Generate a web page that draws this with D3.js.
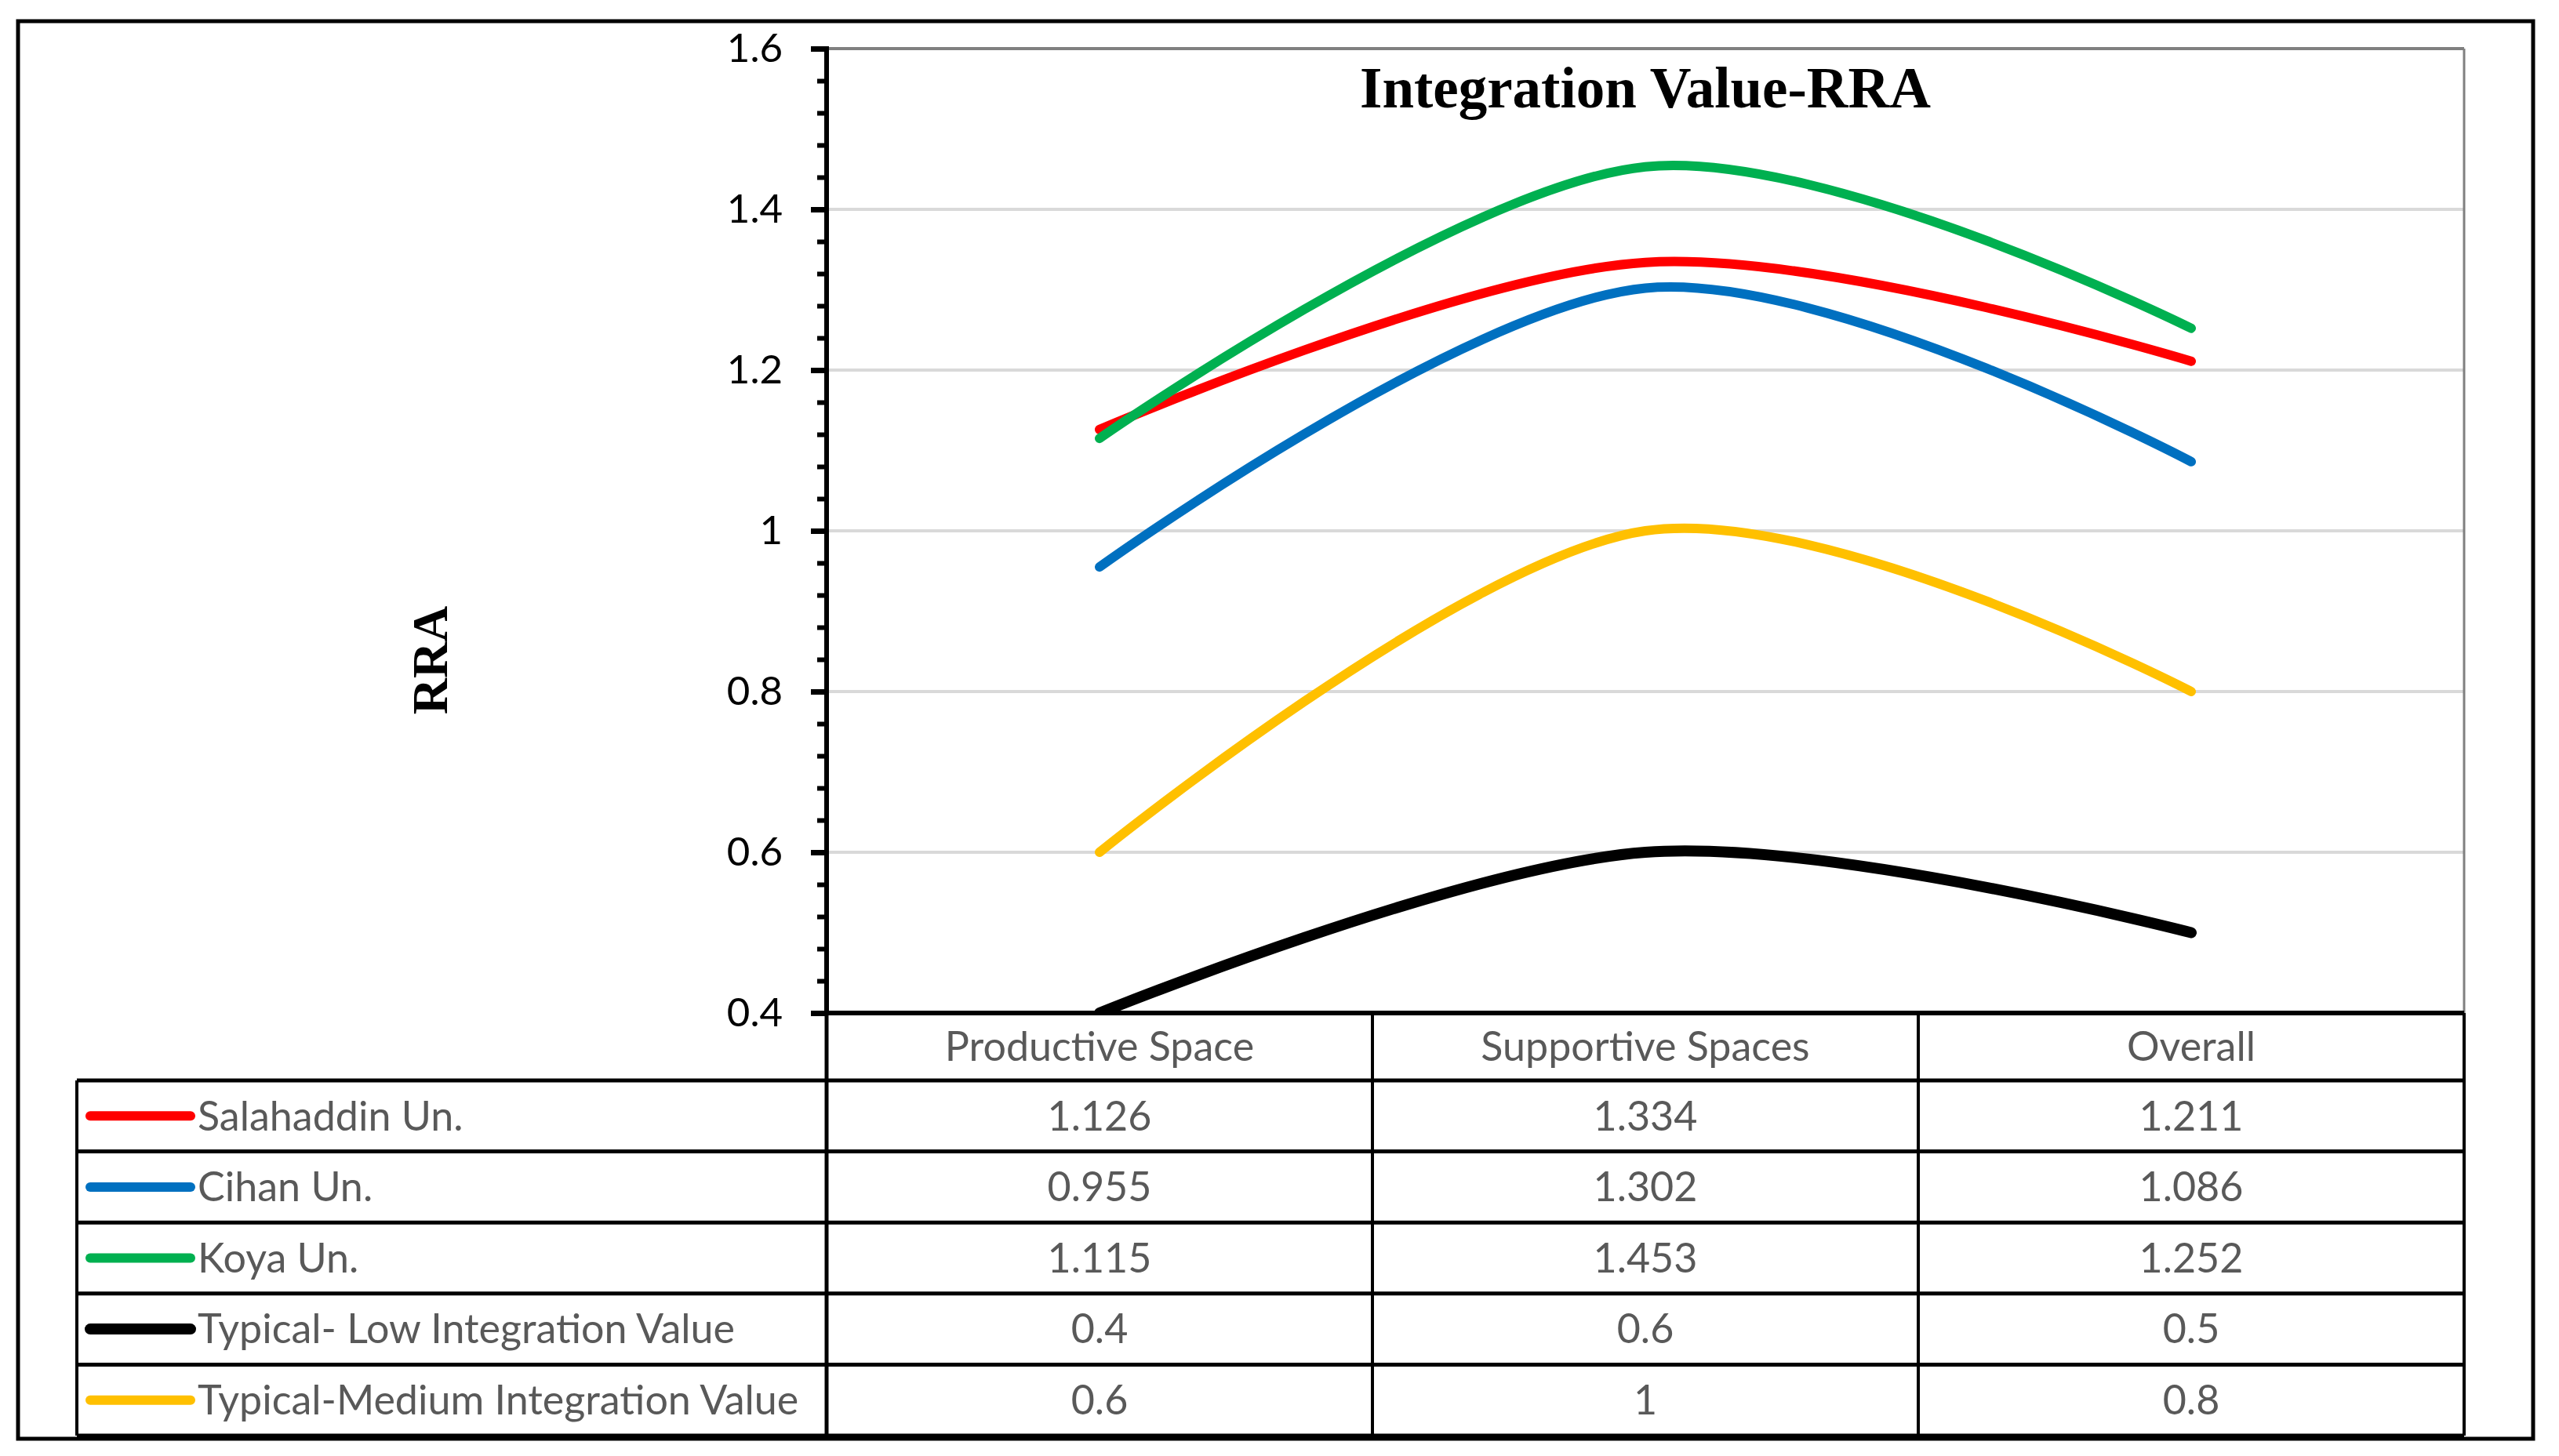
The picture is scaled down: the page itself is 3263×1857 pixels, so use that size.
<!DOCTYPE html>
<html>
<head>
<meta charset="utf-8">
<script src="https://cdn.jsdelivr.net/npm/d3@7"></script>
<style>
html,body{margin:0;padding:0;background:#fff;}
svg{display:block;}
</style>
</head>
<body>
<svg id="chart" width="3263" height="1857"></svg>
<script>
// ---- data ----
const categories = ["Productive Space", "Supportive Spaces", "Overall"];
const seriesNames = ["Salahaddin Un.", "Cihan Un.", "Koya Un.", "Typical- Low Integration Value", "Typical-Medium Integration Value"];
const salahaddinValues = [1.126, 1.334, 1.211];
const cihanValues = [0.955, 1.302, 1.086];
const koyaValues = [1.115, 1.453, 1.252];
const lowValues = [0.4, 0.6, 0.5];
const mediumValues = [0.6, 1, 0.8];
const yTickValues = [0.4, 0.6, 0.8, 1, 1.2, 1.4, 1.6];
const yTickLabels = ["0.4", "0.6", "0.8", "1", "1.2", "1.4", "1.6"];
const chartTitle = "Integration Value-RRA";
const yAxisTitle = "RRA";

// ---- styles ----
const seriesColors = ["#FF0000", "#0070C0", "#00B050", "#000000", "#FFC000"];
const seriesWidths = [12, 12, 12, 14, 12];
const allValues = [salahaddinValues, cihanValues, koyaValues, lowValues, mediumValues];
const series = seriesNames.map((name, i) => ({ name, values: allValues[i], color: seriesColors[i], width: seriesWidths[i] }));

// ---- layout ----
const W = 3263, H = 1857;
const plotL = 1054, plotR = 3142, plotT = 62, plotB = 1292;
const tableL = 98, headerBottom = 1378, tableBottom = 1831;
const rowH = (tableBottom - headerBottom) / series.length;
const textFont = "Lato, 'Open Sans', sans-serif";
const serifFont = "'Liberation Serif', 'DejaVu Serif', serif";
const tableText = "#595959";
const tableFontSize = 52;

const svg = d3.select("#chart");
svg.append("rect").attr("x", 0).attr("y", 0).attr("width", W).attr("height", H).attr("fill", "#fff");

const x = d3.scaleBand().domain(categories).range([plotL, plotR]);
const y = d3.scaleLinear().domain([0.4, 1.6]).range([plotB, plotT]);
const cx = c => x(c) + x.bandwidth() / 2;

// gridlines
svg.append("g").selectAll("line")
  .data(yTickValues.filter(v => v > 0.4 && v < 1.6))
  .join("line")
  .attr("x1", plotL).attr("x2", plotR)
  .attr("y1", d => y(d)).attr("y2", d => y(d))
  .attr("stroke", "#d9d9d9").attr("stroke-width", 4);

// plot area border (top & right)
svg.append("line").attr("x1", plotL).attr("x2", plotR).attr("y1", y(1.6)).attr("y2", y(1.6))
  .attr("stroke", "#808080").attr("stroke-width", 4);
svg.append("line").attr("x1", plotR).attr("x2", plotR).attr("y1", plotT).attr("y2", plotB)
  .attr("stroke", "#808080").attr("stroke-width", 3);

// title
svg.append("text").attr("x", (plotL + plotR) / 2).attr("y", 137)
  .attr("text-anchor", "middle").attr("font-family", serifFont).attr("font-weight", "bold")
  .attr("font-size", 73).attr("fill", "#000").text(chartTitle);

// clip
svg.append("clipPath").attr("id", "plotClip").append("rect")
  .attr("x", plotL).attr("y", plotT).attr("width", plotR - plotL).attr("height", plotB - plotT);

// lines
const line = d3.line()
  .x((d, i) => cx(categories[i]))
  .y(d => y(d))
  .curve(d3.curveCardinal.tension(0));

svg.append("g").attr("clip-path", "url(#plotClip)")
  .selectAll("path").data(series).join("path")
  .attr("d", d => line(d.values))
  .attr("fill", "none")
  .attr("stroke", d => d.color)
  .attr("stroke-width", d => d.width)
  .attr("stroke-linecap", "round")
  .attr("stroke-linejoin", "round");

// bottom axis line (0.4)
svg.append("line").attr("x1", plotL).attr("x2", plotR).attr("y1", plotB).attr("y2", plotB)
  .attr("stroke", "#000").attr("stroke-width", 6);

// y axis: minor ticks
const minorTicks = d3.range(0, 31).map(i => +(0.4 + i * 0.04).toFixed(2)).filter(v => !yTickValues.some(t => Math.abs(t - v) < 1e-9));
const minorAxis = svg.append("g").attr("transform", `translate(${plotL},0)`)
  .call(d3.axisLeft(y).tickValues(minorTicks).tickSize(12).tickFormat(""));
minorAxis.select(".domain").remove();
minorAxis.selectAll(".tick line").attr("stroke", "#000").attr("stroke-width", 6);

// y axis: major ticks
const majorAxis = svg.append("g").attr("transform", `translate(${plotL},0)`)
  .call(d3.axisLeft(y).tickValues(yTickValues).tickSize(20).tickPadding(36)
    .tickFormat((d, i) => yTickLabels[i]));
majorAxis.select(".domain").remove();
majorAxis.selectAll(".tick line").attr("stroke", "#000").attr("stroke-width", 7);
majorAxis.selectAll(".tick text").attr("font-family", textFont).attr("font-size", 51).attr("fill", "#000");

// axis line (continues as table divider)
svg.append("line").attr("x1", plotL).attr("x2", plotL).attr("y1", plotT - 3).attr("y2", plotB)
  .attr("stroke", "#000").attr("stroke-width", 6);

// y axis title
svg.append("text").attr("transform", `translate(570,842) rotate(-90)`)
  .attr("text-anchor", "middle").attr("font-family", serifFont).attr("font-weight", "bold")
  .attr("font-size", 64).attr("fill", "#000").text(yAxisTitle);

// ---- data table ----
const table = svg.append("g");
const hLines = d3.range(0, series.length + 1).map(i => headerBottom + i * rowH);
table.selectAll("line.h").data(hLines).join("line").attr("class", "h")
  .attr("x1", tableL).attr("x2", plotR).attr("y1", d => d).attr("y2", d => d)
  .attr("stroke", "#000").attr("stroke-width", 5);
table.append("line").attr("x1", tableL).attr("x2", tableL).attr("y1", headerBottom).attr("y2", tableBottom)
  .attr("stroke", "#000").attr("stroke-width", 4);
table.append("line").attr("x1", plotL).attr("x2", plotL).attr("y1", plotB).attr("y2", tableBottom)
  .attr("stroke", "#000").attr("stroke-width", 5);
table.selectAll("line.v").data(categories).join("line").attr("class", "v")
  .attr("x1", d => x(d) + x.bandwidth()).attr("x2", d => x(d) + x.bandwidth())
  .attr("y1", plotB).attr("y2", tableBottom)
  .attr("stroke", "#000").attr("stroke-width", 4);

// header labels
table.selectAll("text.hdr").data(categories).join("text").attr("class", "hdr")
  .attr("x", d => cx(d)).attr("y", (plotB + headerBottom) / 2).attr("dy", "0.35em")
  .attr("text-anchor", "middle").attr("font-family", textFont).attr("font-size", tableFontSize)
  .attr("fill", tableText).text(d => d);

// rows
series.forEach((s, i) => {
  const cy = headerBottom + (i + 0.5) * rowH;
  table.append("line").attr("x1", 115).attr("x2", 243).attr("y1", cy).attr("y2", cy)
    .attr("stroke", s.color).attr("stroke-width", s.width).attr("stroke-linecap", "round");
  table.append("text").attr("x", 252).attr("y", cy).attr("dy", "0.35em")
    .attr("font-family", textFont).attr("font-size", tableFontSize).attr("fill", tableText).text(s.name);
  table.selectAll(null).data(s.values).join("text")
    .attr("x", (d, j) => cx(categories[j])).attr("y", cy).attr("dy", "0.35em")
    .attr("text-anchor", "middle").attr("font-family", textFont).attr("font-size", tableFontSize)
    .attr("fill", tableText).text(d => String(d));
});

// outer frame
svg.append("rect").attr("x", 23).attr("y", 27).attr("width", 3230 - 23).attr("height", 1835 - 27)
  .attr("fill", "none").attr("stroke", "#000").attr("stroke-width", 5);
</script>
</body>
</html>
